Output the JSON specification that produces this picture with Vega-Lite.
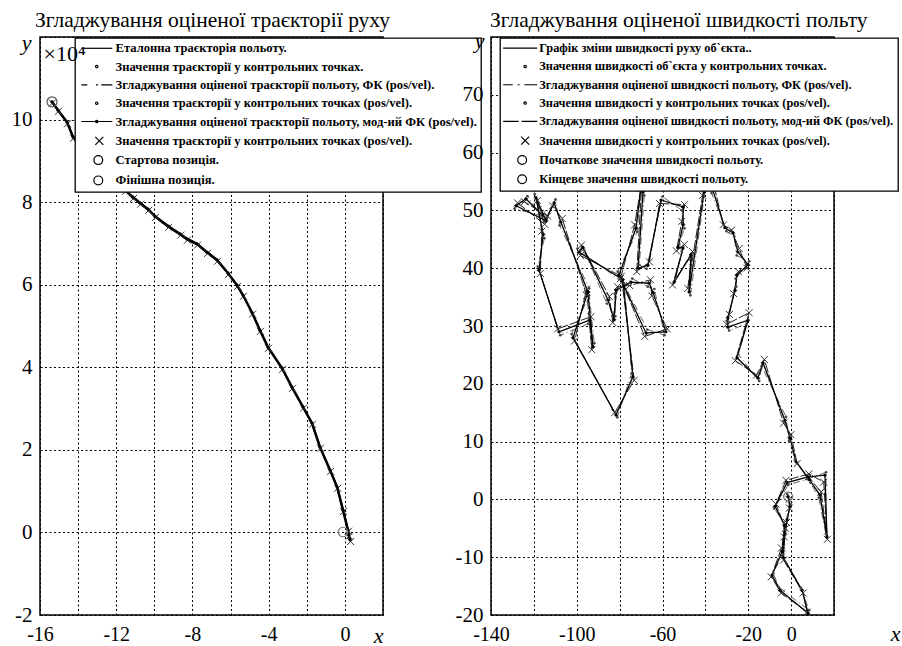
{
  "$schema": "https://vega.github.io/schema/vega-lite/v6.json",
  "background": "white",
  "autosize": {"type": "none"},
  "padding": {"left": 40, "top": 37, "right": 862, "bottom": 609},
  "bounds": "flush",
  "spacing": 108,
  "config": {
    "font": "Liberation Serif",
    "view": {"stroke": "black", "strokeWidth": 1.5},
    "axis": {"grid": true, "gridColor": "black", "gridDash": [2, 2.5], "gridWidth": 1, "gridOpacity": 1, "domain": false, "ticks": false, "labelFont": "Liberation Serif", "labelFontSize": 21, "labelColor": "black", "labelFlush": false, "labelOverlap": false, "titleFont": "Liberation Serif", "titleFontSize": 22, "titleFontStyle": "italic", "titleFontWeight": "normal", "titleColor": "black", "titleAngle": 0, "titleAlign": "center", "titleBaseline": "alphabetic"},
    "axisX": {"labelPadding": 9, "labelFontSize": 20},
    "axisY": {"labelPadding": 8},
    "title": {"font": "Liberation Serif", "fontSize": 21.5, "fontWeight": "normal", "anchor": "start", "frame": "group", "offset": -5, "color": "black", "baseline": "alphabetic"},
    "legend": {"labelFont": "Liberation Serif", "labelFontSize": 12.6, "labelFontWeight": "bold", "labelColor": "black", "labelLimit": 0, "fillColor": "white", "strokeColor": "black", "strokeWidth": 1.3, "padding": 4, "rowPadding": 5.3, "symbolStrokeColor": "black", "symbolStrokeWidth": 1.2, "symbolFillColor": "transparent", "symbolSize": 64, "orient": "none", "title": null, "zindex": 1}
  },
  "resolve": {"scale": {"shape": "independent"}, "legend": {"shape": "independent"}},
  "datasets": {
    "trajT": [
      {"i":1,"x":-15.37,"y":10.43},{"i":2,"x":-15.06,"y":10.23},{"i":3,"x":-14.58,"y":9.94},{"i":4,"x":-14.27,"y":9.58},{"i":5,"x":-13.64,"y":9.21},{"i":6,"x":-12.85,"y":8.83},{"i":7,"x":-12.06,"y":8.51},{"i":8,"x":-11.54,"y":8.29},{"i":9,"x":-11.12,"y":8.12},{"i":10,"x":-10.75,"y":7.98},{"i":11,"x":-10.33,"y":7.83},{"i":12,"x":-9.97,"y":7.66},{"i":13,"x":-9.28,"y":7.42},{"i":14,"x":-8.65,"y":7.23},{"i":15,"x":-8.29,"y":7.11},{"i":16,"x":-7.76,"y":6.99},{"i":17,"x":-7.24,"y":6.79},{"i":18,"x":-6.71,"y":6.6},{"i":19,"x":-6.13,"y":6.28},{"i":20,"x":-5.66,"y":5.99},{"i":21,"x":-5.35,"y":5.75},{"i":22,"x":-4.87,"y":5.32},{"i":23,"x":-4.46,"y":4.9},{"i":24,"x":-4.04,"y":4.49},{"i":25,"x":-3.3,"y":3.98},{"i":26,"x":-2.78,"y":3.52},{"i":27,"x":-2.2,"y":3.04},{"i":28,"x":-1.73,"y":2.65},{"i":29,"x":-1.31,"y":2.07},{"i":30,"x":-0.78,"y":1.51},{"i":31,"x":-0.41,"y":1.1},{"i":32,"x":-0.1,"y":0.54},{"i":33,"x":0.16,"y":0.06},{"i":34,"x":0.2,"y":-0.06},{"i":35,"x":0.27,"y":-0.18}
    ],
    "trajE1": [
      {"i":1,"x":-15.4,"y":10.46},{"i":2,"x":-15.09,"y":10.26},{"i":3,"x":-14.61,"y":9.97},{"i":4,"x":-14.3,"y":9.61},{"i":5,"x":-13.67,"y":9.24},{"i":6,"x":-12.88,"y":8.86},{"i":7,"x":-12.09,"y":8.54},{"i":8,"x":-11.57,"y":8.32},{"i":9,"x":-11.15,"y":8.15},{"i":10,"x":-10.78,"y":8.01},{"i":11,"x":-10.36,"y":7.86},{"i":12,"x":-10.0,"y":7.69},{"i":13,"x":-9.31,"y":7.45},{"i":14,"x":-8.68,"y":7.26},{"i":15,"x":-8.32,"y":7.14},{"i":16,"x":-7.79,"y":7.02},{"i":17,"x":-7.27,"y":6.82},{"i":18,"x":-6.74,"y":6.63},{"i":19,"x":-6.16,"y":6.31},{"i":20,"x":-5.69,"y":6.02},{"i":21,"x":-5.38,"y":5.78},{"i":22,"x":-4.9,"y":5.35},{"i":23,"x":-4.49,"y":4.93},{"i":24,"x":-4.07,"y":4.52},{"i":25,"x":-3.33,"y":4.01},{"i":26,"x":-2.81,"y":3.55},{"i":27,"x":-2.23,"y":3.07},{"i":28,"x":-1.76,"y":2.68},{"i":29,"x":-1.34,"y":2.1},{"i":30,"x":-0.81,"y":1.54},{"i":31,"x":-0.44,"y":1.13},{"i":32,"x":-0.13,"y":0.57},{"i":33,"x":0.13,"y":0.09},{"i":34,"x":0.17,"y":-0.03},{"i":35,"x":0.24,"y":-0.15}
    ],
    "trajE2": [
      {"i":1,"x":-15.35,"y":10.4},{"i":2,"x":-15.03,"y":10.2},{"i":3,"x":-14.55,"y":9.9},{"i":4,"x":-14.24,"y":9.55},{"i":5,"x":-13.61,"y":9.18},{"i":6,"x":-12.82,"y":8.8},{"i":7,"x":-12.03,"y":8.48},{"i":8,"x":-11.51,"y":8.26},{"i":9,"x":-11.09,"y":8.09},{"i":10,"x":-10.72,"y":7.95},{"i":11,"x":-10.3,"y":7.8},{"i":12,"x":-9.94,"y":7.63},{"i":13,"x":-9.25,"y":7.39},{"i":14,"x":-8.62,"y":7.2},{"i":15,"x":-8.26,"y":7.08},{"i":16,"x":-7.73,"y":6.96},{"i":17,"x":-7.21,"y":6.76},{"i":18,"x":-6.68,"y":6.57},{"i":19,"x":-6.1,"y":6.25},{"i":20,"x":-5.63,"y":5.96},{"i":21,"x":-5.32,"y":5.72},{"i":22,"x":-4.84,"y":5.29},{"i":23,"x":-4.43,"y":4.87},{"i":24,"x":-4.01,"y":4.46},{"i":25,"x":-3.27,"y":3.95},{"i":26,"x":-2.75,"y":3.49},{"i":27,"x":-2.17,"y":3.01},{"i":28,"x":-1.7,"y":2.62},{"i":29,"x":-1.28,"y":2.04},{"i":30,"x":-0.75,"y":1.48},{"i":31,"x":-0.38,"y":1.07},{"i":32,"x":-0.07,"y":0.51},{"i":33,"x":0.19,"y":0.03},{"i":34,"x":0.23,"y":-0.09},{"i":35,"x":0.3,"y":-0.22}
    ],
    "trajEnds": [
      {"kind":"start","x":-15.37,"y":10.43},{"kind":"finish","x":-0.1,"y":0.01}
    ],
    "velT": [
      {"i":1,"x":-1.4,"y":0.5},{"i":2,"x":-0.5,"y":-1.2},{"i":3,"x":-1.9,"y":-3.5},{"i":4,"x":-2.9,"y":-5.8},{"i":5,"x":-3.8,"y":-10.0},{"i":6,"x":5.1,"y":-15.7},{"i":7,"x":7.9,"y":-19.7},{"i":8,"x":-5.2,"y":-15.7},{"i":9,"x":-8.9,"y":-13.1},{"i":10,"x":-4.2,"y":-9.0},{"i":11,"x":-3.0,"y":-4.5},{"i":12,"x":-7.5,"y":-1.2},{"i":13,"x":-1.9,"y":2.9},{"i":14,"x":7.9,"y":3.9},{"i":15,"x":15.8,"y":4.2},{"i":16,"x":16.7,"y":-6.5},{"i":17,"x":13.4,"y":0.8},{"i":18,"x":8.5,"y":3.4},{"i":19,"x":2.3,"y":6.5},{"i":20,"x":-0.5,"y":10.6},{"i":21,"x":-2.9,"y":13.7},{"i":22,"x":-13.1,"y":23.6},{"i":23,"x":-15.5,"y":21.0},{"i":24,"x":-25.3,"y":24.5},{"i":25,"x":-20.1,"y":31.0},{"i":26,"x":-29.5,"y":29.8},{"i":27,"x":-29.5,"y":31.4},{"i":28,"x":-26.2,"y":36.2},{"i":29,"x":-25.3,"y":38.8},{"i":30,"x":-20.1,"y":40.6},{"i":31,"x":-24.8,"y":42.8},{"i":32,"x":-27.1,"y":46.1},{"i":33,"x":-30.9,"y":47.0},{"i":34,"x":-36.5,"y":53.5},{"i":35,"x":-38.0,"y":60.0},{"i":36,"x":-40.6,"y":53.2},{"i":37,"x":-47.6,"y":35.9},{"i":38,"x":-46.7,"y":42.3},{"i":39,"x":-54.6,"y":37.6},{"i":40,"x":-50.4,"y":43.5},{"i":41,"x":-52.8,"y":43.6},{"i":42,"x":-50.4,"y":47.5},{"i":43,"x":-50.4,"y":50.6},{"i":44,"x":-60.7,"y":51.8},{"i":45,"x":-66.8,"y":40.5},{"i":46,"x":-71.4,"y":40.0},{"i":47,"x":-69.1,"y":53.2},{"i":48,"x":-68.0,"y":60.0},{"i":49,"x":-72.4,"y":46.9},{"i":50,"x":-80.3,"y":38.8},{"i":51,"x":-67.7,"y":28.8},{"i":52,"x":-58.4,"y":29.0},{"i":53,"x":-64.4,"y":35.8},{"i":54,"x":-66.3,"y":37.4},{"i":55,"x":-74.7,"y":37.6},{"i":56,"x":-81.7,"y":36.2},{"i":57,"x":-82.6,"y":31.1},{"i":58,"x":-85.4,"y":34.5},{"i":59,"x":-97.1,"y":43.6},{"i":60,"x":-99.0,"y":42.8},{"i":61,"x":-78.5,"y":38.0},{"i":62,"x":-73.8,"y":21.2},{"i":63,"x":-81.7,"y":14.6},{"i":64,"x":-101.7,"y":28.0},{"i":65,"x":-94.8,"y":35.9},{"i":66,"x":-92.4,"y":26.4},{"i":67,"x":-94.0,"y":31.0},{"i":68,"x":-108.3,"y":29.0},{"i":69,"x":-117.6,"y":39.7},{"i":70,"x":-115.7,"y":45.8},{"i":71,"x":-119.0,"y":52.2},{"i":72,"x":-114.3,"y":48.2},{"i":73,"x":-128.3,"y":50.8},{"i":74,"x":-123.7,"y":52.0},{"i":75,"x":-114.3,"y":48.5},{"i":76,"x":-110.6,"y":51.3},{"i":77,"x":-107.4,"y":48.0},{"i":78,"x":-94.8,"y":35.9}
    ],
    "velE1": [
      {"i":1,"x":-1.8,"y":0.9},{"i":2,"x":-0.2,"y":-0.8},{"i":3,"x":-1.6,"y":-3.0},{"i":4,"x":-2.5,"y":-5.3},{"i":5,"x":-4.2,"y":-9.6},{"i":6,"x":4.6,"y":-15.3},{"i":7,"x":8.4,"y":-19.2},{"i":8,"x":-5.7,"y":-15.2},{"i":9,"x":-8.4,"y":-12.7},{"i":10,"x":-3.8,"y":-9.5},{"i":11,"x":-3.4,"y":-4.0},{"i":12,"x":-7.9,"y":-1.6},{"i":13,"x":-1.4,"y":2.5},{"i":14,"x":7.4,"y":3.5},{"i":15,"x":16.3,"y":4.7},{"i":16,"x":16.2,"y":-6.0},{"i":17,"x":12.9,"y":0.3},{"i":18,"x":9.0,"y":2.9},{"i":19,"x":1.8,"y":7.0},{"i":20,"x":-1.0,"y":10.1},{"i":21,"x":-2.4,"y":14.3},{"i":22,"x":-13.7,"y":23.0},{"i":23,"x":-14.9,"y":20.5},{"i":24,"x":-24.7,"y":25.1},{"i":25,"x":-20.7,"y":30.4},{"i":26,"x":-28.9,"y":29.2},{"i":27,"x":-30.1,"y":30.9},{"i":28,"x":-25.6,"y":36.8},{"i":29,"x":-25.9,"y":38.2},{"i":30,"x":-19.5,"y":41.2},{"i":31,"x":-25.4,"y":42.2},{"i":32,"x":-26.5,"y":45.5},{"i":33,"x":-30.2,"y":46.4},{"i":34,"x":-37.1,"y":53.0},{"i":35,"x":-38.7,"y":60.0},{"i":36,"x":-40.0,"y":53.8},{"i":37,"x":-47.0,"y":35.3},{"i":38,"x":-47.3,"y":41.7},{"i":39,"x":-53.9,"y":38.2},{"i":40,"x":-51.0,"y":42.9},{"i":41,"x":-52.2,"y":44.2},{"i":42,"x":-49.8,"y":46.9},{"i":43,"x":-51.0,"y":50.0},{"i":44,"x":-60.0,"y":52.4},{"i":45,"x":-67.4,"y":39.9},{"i":46,"x":-70.8,"y":40.6},{"i":47,"x":-68.5,"y":52.6},{"i":48,"x":-68.7,"y":60.0},{"i":49,"x":-71.8,"y":46.3},{"i":50,"x":-80.9,"y":39.4},{"i":51,"x":-67.1,"y":29.4},{"i":52,"x":-59.0,"y":28.4},{"i":53,"x":-63.8,"y":36.4},{"i":54,"x":-66.9,"y":36.8},{"i":55,"x":-74.1,"y":38.2},{"i":56,"x":-82.3,"y":35.6},{"i":57,"x":-82.0,"y":31.7},{"i":58,"x":-86.0,"y":33.9},{"i":59,"x":-96.4,"y":43.0},{"i":60,"x":-99.7,"y":43.4},{"i":61,"x":-77.9,"y":37.4},{"i":62,"x":-74.4,"y":21.8},{"i":63,"x":-81.1,"y":14.2},{"i":64,"x":-102.4,"y":28.6},{"i":65,"x":-94.2,"y":35.3},{"i":66,"x":-91.8,"y":27.0},{"i":67,"x":-94.6,"y":30.4},{"i":68,"x":-107.7,"y":28.4},{"i":69,"x":-118.2,"y":40.3},{"i":70,"x":-115.1,"y":45.2},{"i":71,"x":-119.6,"y":52.8},{"i":72,"x":-113.7,"y":48.8},{"i":73,"x":-129.0,"y":50.3},{"i":74,"x":-123.0,"y":52.5},{"i":75,"x":-115.0,"y":48.0},{"i":76,"x":-109.9,"y":51.9},{"i":77,"x":-108.0,"y":47.4},{"i":78,"x":-94.2,"y":36.5}
    ],
    "velE2": [
      {"i":1,"x":-1.0,"y":0.0},{"i":2,"x":-0.8,"y":-1.5},{"i":3,"x":-2.2,"y":-4.0},{"i":4,"x":-3.2,"y":-6.5},{"i":5,"x":-3.5,"y":-10.5},{"i":6,"x":5.6,"y":-16.2},{"i":7,"x":7.5,"y":-19.5},{"i":8,"x":-4.6,"y":-16.2},{"i":9,"x":-9.3,"y":-13.4},{"i":10,"x":-4.5,"y":-8.4},{"i":11,"x":-2.6,"y":-5.0},{"i":12,"x":-7.1,"y":-0.8},{"i":13,"x":-2.4,"y":3.3},{"i":14,"x":8.3,"y":4.4},{"i":15,"x":15.2,"y":3.0},{"i":16,"x":16.9,"y":-6.9},{"i":17,"x":14.0,"y":1.3},{"i":18,"x":8.0,"y":3.9},{"i":19,"x":2.8,"y":6.2},{"i":20,"x":-0.1,"y":11.2},{"i":21,"x":-3.5,"y":13.2},{"i":22,"x":-12.5,"y":24.2},{"i":23,"x":-16.2,"y":21.5},{"i":24,"x":-26.0,"y":24.0},{"i":25,"x":-19.6,"y":32.3},{"i":26,"x":-30.1,"y":30.3},{"i":27,"x":-28.8,"y":32.0},{"i":28,"x":-26.8,"y":35.6},{"i":29,"x":-24.6,"y":39.4},{"i":30,"x":-20.6,"y":40.0},{"i":31,"x":-24.2,"y":43.4},{"i":32,"x":-27.8,"y":46.6},{"i":33,"x":-31.6,"y":47.5},{"i":34,"x":-35.8,"y":54.0},{"i":35,"x":-37.2,"y":60.0},{"i":36,"x":-41.3,"y":52.6},{"i":37,"x":-48.2,"y":36.5},{"i":38,"x":-46.0,"y":42.9},{"i":39,"x":-55.3,"y":37.1},{"i":40,"x":-49.8,"y":44.1},{"i":41,"x":-53.5,"y":43.0},{"i":42,"x":-51.0,"y":48.1},{"i":43,"x":-49.7,"y":51.0},{"i":44,"x":-61.4,"y":51.2},{"i":45,"x":-66.1,"y":41.1},{"i":46,"x":-72.0,"y":39.4},{"i":47,"x":-69.8,"y":53.8},{"i":48,"x":-67.3,"y":60.0},{"i":49,"x":-73.0,"y":47.5},{"i":50,"x":-79.6,"y":38.2},{"i":51,"x":-68.3,"y":28.2},{"i":52,"x":-57.8,"y":29.5},{"i":53,"x":-65.0,"y":35.2},{"i":54,"x":-65.6,"y":38.0},{"i":55,"x":-75.3,"y":37.0},{"i":56,"x":-81.0,"y":36.8},{"i":57,"x":-83.2,"y":30.6},{"i":58,"x":-84.8,"y":35.1},{"i":59,"x":-97.8,"y":44.0},{"i":60,"x":-98.3,"y":42.2},{"i":61,"x":-79.2,"y":38.6},{"i":62,"x":-73.2,"y":20.6},{"i":63,"x":-82.3,"y":15.0},{"i":64,"x":-101.0,"y":27.4},{"i":65,"x":-95.4,"y":36.4},{"i":66,"x":-93.0,"y":25.9},{"i":67,"x":-93.4,"y":31.6},{"i":68,"x":-108.9,"y":29.5},{"i":69,"x":-117.0,"y":39.1},{"i":70,"x":-116.3,"y":46.4},{"i":71,"x":-118.4,"y":51.7},{"i":72,"x":-115.0,"y":47.6},{"i":73,"x":-127.6,"y":51.3},{"i":74,"x":-124.4,"y":51.5},{"i":75,"x":-113.6,"y":49.0},{"i":76,"x":-111.3,"y":50.8},{"i":77,"x":-106.8,"y":48.6},{"i":78,"x":-95.4,"y":35.3}
    ]
  },
  "hconcat": [
    {
      "width": 343,
      "height": 578,
      "title": {"text": "Згладжування оціненої траєкторії руху", "dx": -5},
      "resolve": {"axis": {"x": "independent"}},
      "layer": [
        {
          "encoding": {
            "x": {"field": "x", "type": "quantitative", "scale": {"domain": [-16, 2], "nice": false, "zero": false}, "axis": {"values": [-16, -14, -12, -10, -8, -6, -4, -2, 0, 2], "labelExpr": "(datum.value % 4 == 0 && datum.value <= 0) ? '' + datum.value : ''", "title": "x", "titleX": 338, "titleY": 27}},
            "y": {"field": "y", "type": "quantitative", "scale": {"domain": [-2, 12], "nice": false, "zero": false}, "axis": {"values": [-2, 0, 2, 4, 6, 8, 10, 12], "labelExpr": "datum.value < 12 ? '' + datum.value : ''", "title": "y", "titleX": -14, "titleY": 12}}
          },
          "layer": [
            {"data": {"name": "trajE1"}, "mark": {"type": "line", "color": "#444", "strokeWidth": 1, "strokeDash": [6, 3, 1, 3], "clip": true}, "encoding": {"order": {"field": "i"}}},
            {"data": {"name": "trajE2"}, "mark": {"type": "line", "color": "black", "strokeWidth": 1.5, "clip": true}, "encoding": {"order": {"field": "i"}}},
            {"data": {"name": "trajT"}, "mark": {"type": "line", "color": "black", "strokeWidth": 2.5, "clip": true}, "encoding": {"order": {"field": "i"}}},
            {"data": {"name": "trajE2"}, "mark": {"type": "point", "filled": false, "color": "#333", "strokeWidth": 1, "size": 49, "shape": "M-1,-1L1,1M-1,1L1,-1", "opacity": 1}},
            {"data": {"name": "trajT"}, "mark": {"type": "point", "filled": true, "color": "black", "size": 10, "shape": "circle", "opacity": 1}},
            {"data": {"name": "trajEnds"}, "transform": [{"filter": "datum.kind == 'start'"}], "mark": {"type": "point", "filled": false, "color": "#555", "strokeWidth": 1.2, "size": 100, "shape": "circle", "opacity": 1}},
            {"data": {"name": "trajEnds"}, "transform": [{"filter": "datum.kind == 'finish'"}], "mark": {"type": "point", "filled": false, "color": "#777", "strokeWidth": 1.2, "size": 90, "shape": "circle", "opacity": 1}},
            {"data": {"name": "trajEnds"}, "transform": [{"filter": "datum.kind == 'legend'"}], "mark": {"type": "point", "filled": false, "color": "black", "size": 64, "opacity": 1}, "encoding": {"shape": {"datum": "L1", "scale": {"domain": ["L1", "L2", "L3", "L4", "L5", "L6", "L7", "L8"], "range": ["M-1,0H6.75", "M3.15,0A0.3,0.3,0,1,1,2.55,0A0.3,0.3,0,1,1,3.15,0Z", "M-1,0H0.5M2.65,0H3.15M4,0H6.75", "M3.15,0A0.3,0.3,0,1,1,2.55,0A0.3,0.3,0,1,1,3.15,0Z", "M-1,0H6.75M3.15,0A0.3,0.3,0,1,1,2.55,0A0.3,0.3,0,1,1,3.15,0Z", "M2.5,-1L4.5,1M2.5,1L4.5,-1", "M4.35,0A1.1,1.1,0,1,1,2.15,0A1.1,1.1,0,1,1,4.35,0Z", "M4.35,0A1.1,1.1,0,1,1,2.15,0A1.1,1.1,0,1,1,4.35,0Z"]}, "legend": {"legendX": 35, "legendY": 1, "labelOffset": 24, "labelExpr": "datum.value == 'L1' ? 'Еталонна траєкторія польоту.' : datum.value == 'L2' ? 'Значення траєкторії у контрольних точках.' : datum.value == 'L3' ? 'Згладжування оціненої траєкторії польоту, ФК (pos/vel).' : datum.value == 'L4' ? 'Значення траєкторії у контрольних точках (pos/vel).' : datum.value == 'L5' ? 'Згладжування оціненої траєкторії польоту, мод-ий ФК (pos/vel).' : datum.value == 'L6' ? 'Значення траєкторії у контрольних точках (pos/vel).' : datum.value == 'L7' ? 'Стартова позиція.' : 'Фінішна позиція.'"}}}}
          ]
        },
        {
          "data": {"name": "trajEnds"},
          "transform": [{"filter": "datum.kind == 'legend'"}],
          "mark": {"type": "point", "opacity": 0},
          "encoding": {
            "x": {"field": "x", "type": "quantitative", "axis": {"orient": "top", "values": [-16], "labelExpr": "'×10⁴'", "labelAlign": "left", "labelBaseline": "middle", "labelPadding": -16, "labelOffset": 3, "labelFontSize": 22, "grid": false, "title": null, "zindex": 3}},
            "y": {"field": "y", "type": "quantitative"}
          }
        }
      ]
    },
    {
      "width": 343,
      "height": 578,
      "title": {"text": "Згладжування оціненої швидкості польту", "dx": -1},
      "encoding": {
        "x": {"field": "x", "type": "quantitative", "scale": {"domain": [-140, 20], "nice": false, "zero": false}, "axis": {"values": [-140, -120, -100, -80, -60, -40, -20, 0, 20], "labelExpr": "indexof([-140, -100, -60, -20, 0], datum.value) >= 0 ? '' + datum.value : ''", "title": "x", "titleX": 404, "titleY": 25}},
        "y": {"field": "y", "type": "quantitative", "scale": {"domain": [-20, 80], "nice": false, "zero": false}, "axis": {"values": [-20, -10, 0, 10, 20, 30, 40, 50, 60, 70, 80], "labelExpr": "datum.value < 80 ? '' + datum.value : ''", "title": "y", "titleX": -12, "titleY": 10}}
      },
      "layer": [
        {"data": {"name": "velE1"}, "mark": {"type": "line", "color": "#555", "strokeWidth": 0.9, "strokeDash": [7, 3, 1, 3], "clip": true}, "encoding": {"order": {"field": "i"}}},
        {"data": {"name": "velE2"}, "mark": {"type": "line", "color": "#222", "strokeWidth": 1, "strokeDash": [10, 2], "clip": true}, "encoding": {"order": {"field": "i"}}},
        {"data": {"name": "velT"}, "mark": {"type": "line", "color": "black", "strokeWidth": 1.3, "clip": true}, "encoding": {"order": {"field": "i"}}},
        {"data": {"name": "velE2"}, "mark": {"type": "point", "filled": false, "color": "#333", "strokeWidth": 1, "size": 49, "shape": "M-1,-1L1,1M-1,1L1,-1", "opacity": 1, "clip": true}},
        {"data": {"name": "velT"}, "mark": {"type": "point", "filled": true, "color": "black", "size": 10, "shape": "circle", "opacity": 1, "clip": true}},
        {"data": {"name": "velE1"}, "mark": {"type": "point", "filled": true, "color": "#444", "size": 7, "shape": "circle", "opacity": 1, "clip": true}},
        {"data": {"name": "velT"}, "transform": [{"filter": "datum.i == 1"}], "mark": {"type": "point", "filled": false, "color": "#777", "strokeWidth": 1.2, "size": 80, "shape": "circle", "opacity": 1}},
        {"data": {"name": "velT"}, "transform": [{"filter": "datum.i == 0"}], "mark": {"type": "point", "filled": false, "color": "black", "size": 64, "opacity": 1}, "encoding": {"shape": {"datum": "R1", "scale": {"domain": ["R1", "R2", "R3", "R4", "R5", "R6", "R7", "R8"], "range": ["M-1.75,0H6.75", "M4.05,0A0.3,0.3,0,1,1,3.45,0A0.3,0.3,0,1,1,4.05,0Z", "M-1.75,0H0.65M1.85,0H2.35M3.55,0H6.75", "M4.05,0A0.3,0.3,0,1,1,3.45,0A0.3,0.3,0,1,1,4.05,0Z", "M-1.75,0H2.15M2.85,0H6.75", "M2.75,-1L4.75,1M2.75,1L4.75,-1", "M4.1,0A1.1,1.1,0,1,1,1.9,0A1.1,1.1,0,1,1,4.1,0Z", "M4.1,0A1.1,1.1,0,1,1,1.9,0A1.1,1.1,0,1,1,4.1,0Z"]}, "legend": {"legendX": 9, "legendY": 1, "labelOffset": 23, "labelFontSize": 12.3, "labelExpr": "datum.value == 'R1' ? 'Графік зміни швидкості руху об`єкта..' : datum.value == 'R2' ? 'Значення швидкості об`єкта у контрольних точках.' : datum.value == 'R3' ? 'Згладжування оціненої швидкості польоту, ФК (pos/vel).' : datum.value == 'R4' ? 'Значення швидкості у контрольних точках (pos/vel).' : datum.value == 'R5' ? 'Згладжування оціненої швидкості польоту, мод-ий ФК (pos/vel).' : datum.value == 'R6' ? 'Значення швидкості у контрольних точках (pos/vel).' : datum.value == 'R7' ? 'Початкове значення швидкості польоту.' : 'Кінцеве значення швидкості польоту.'"}}}}
      ]
    }
  ]
}
